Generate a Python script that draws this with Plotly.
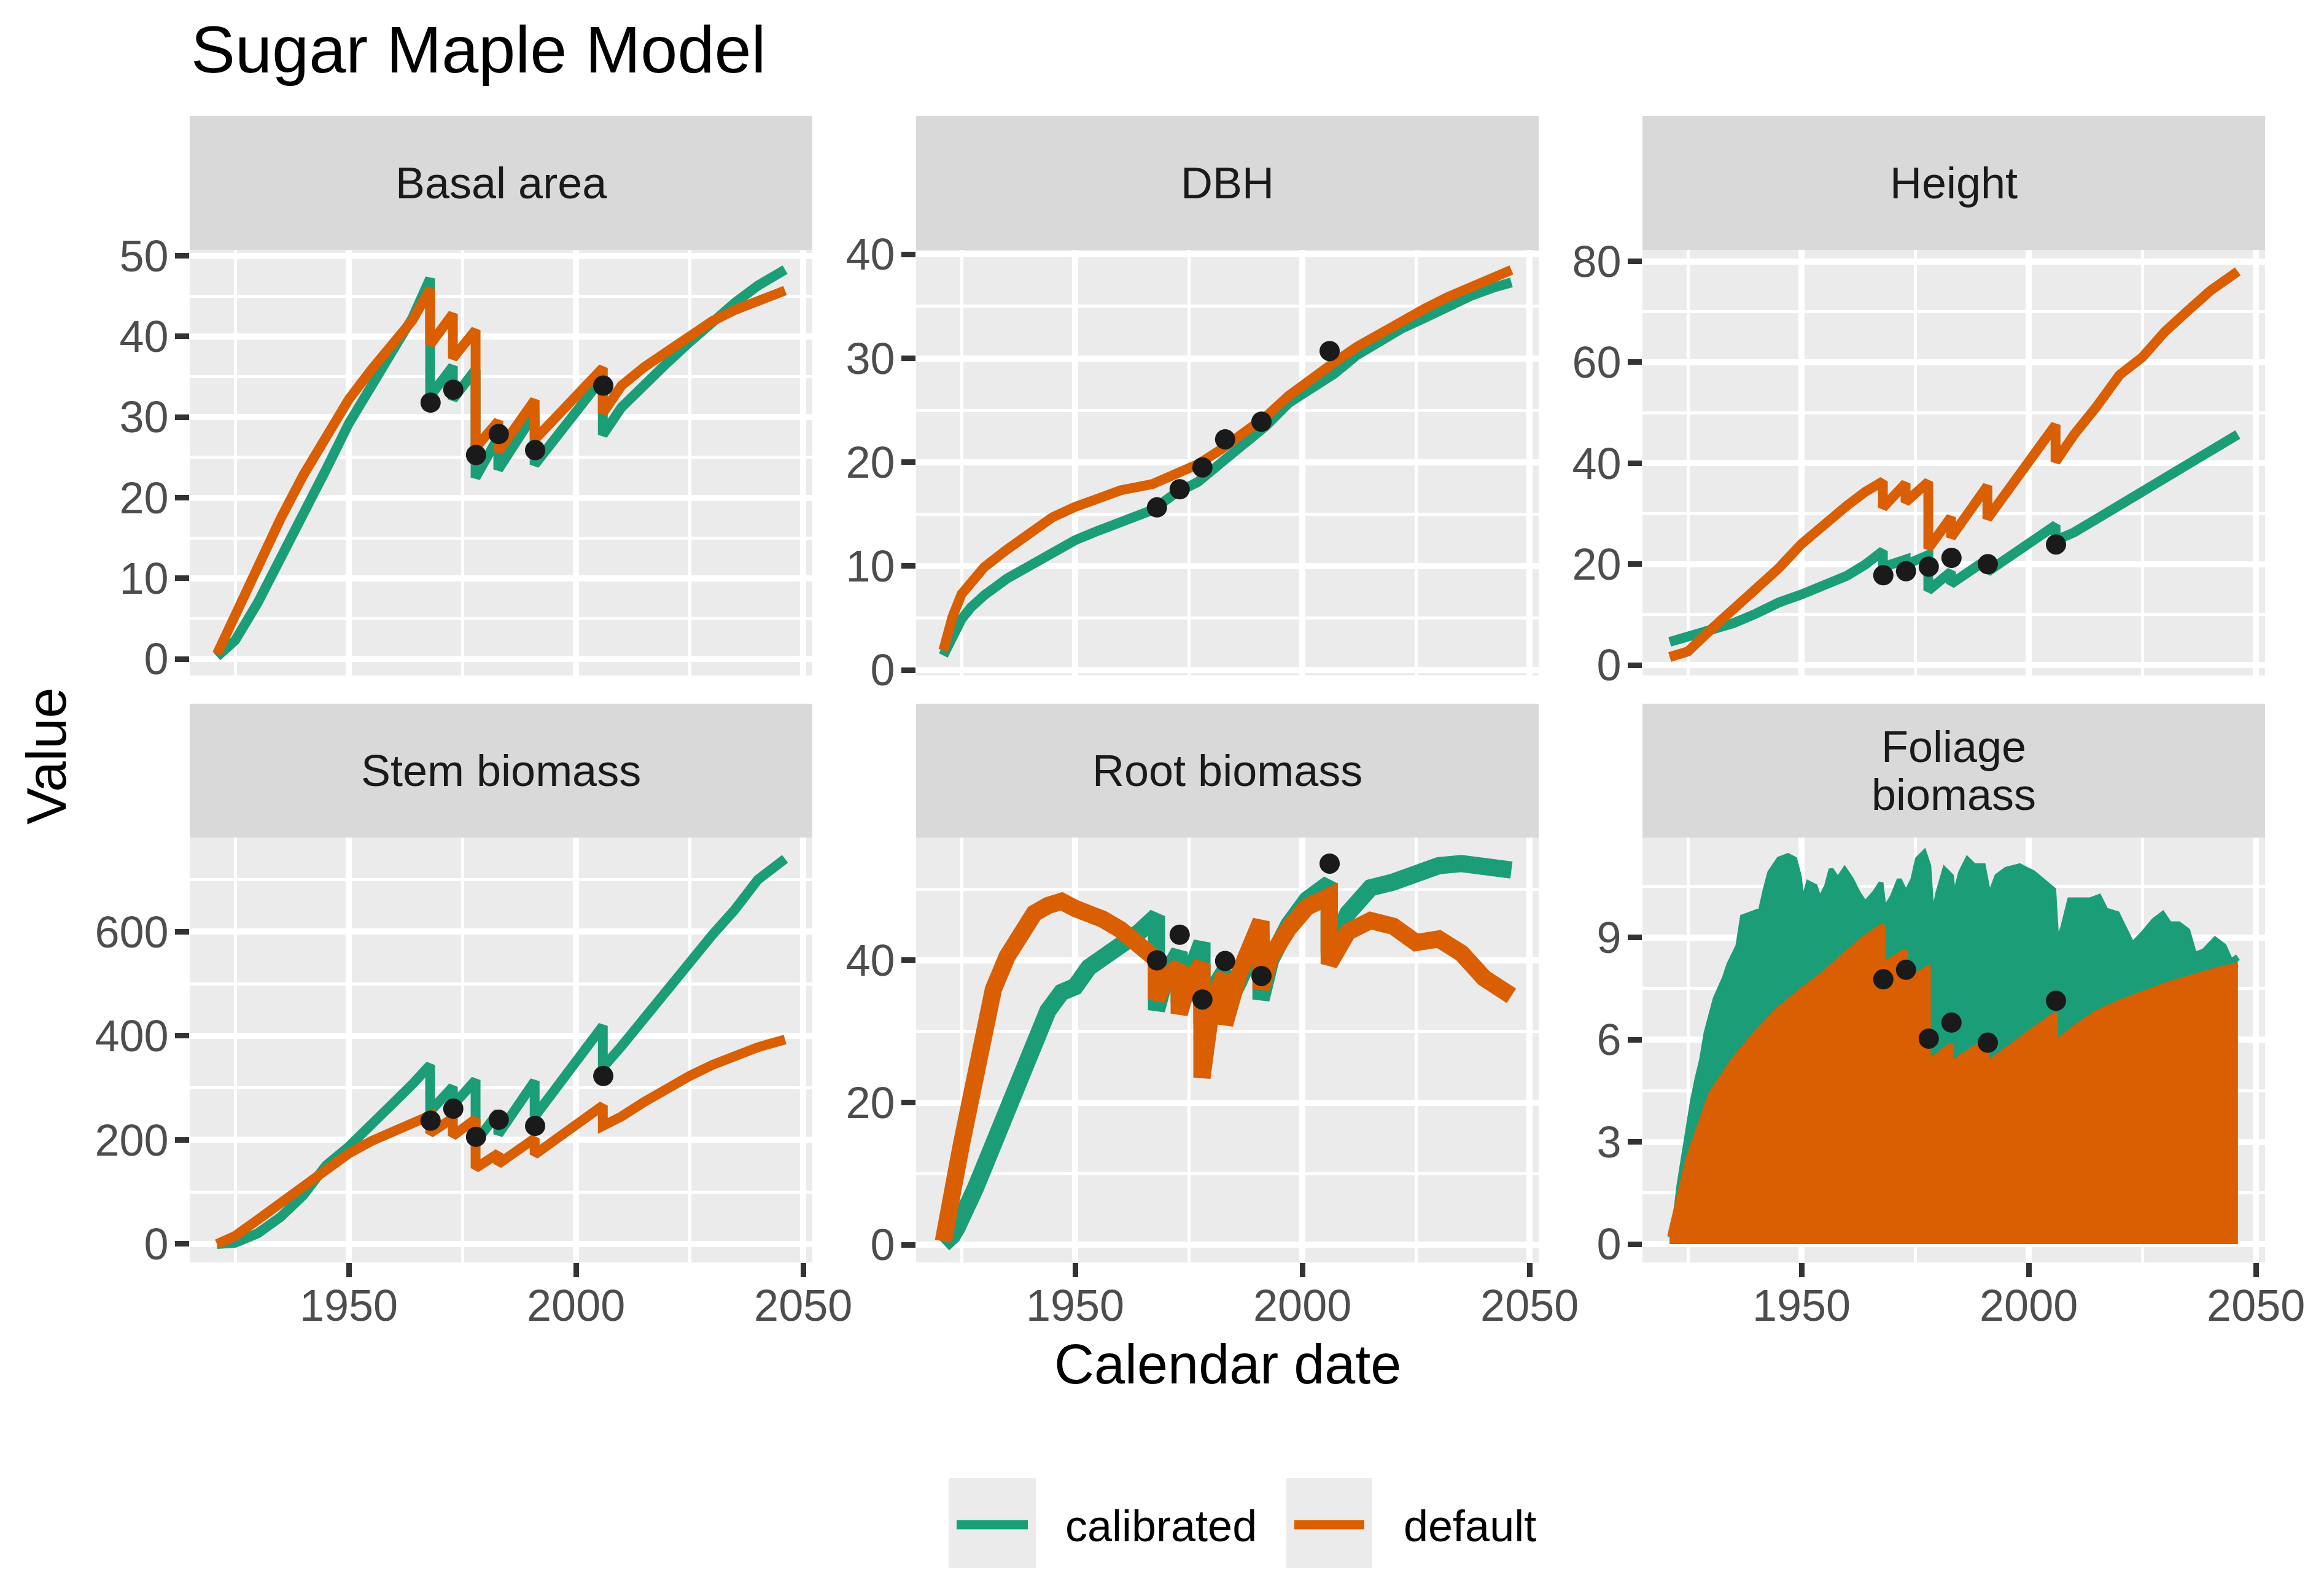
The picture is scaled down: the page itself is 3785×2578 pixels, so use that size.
import plotly.graph_objects as go

# ------------------------------------------------------------------
# Data
# ------------------------------------------------------------------
SERIES = ["calibrated", "default"]
PANELS = ["Basal area", "DBH", "Height", "Stem biomass", "Root biomass", "Foliage<br>biomass"]

OBS_YEARS = [1968, 1973, 1978, 1983, 1991, 2006]

# time grid with thinning events (value before / after each cut)
STEP_YEARS = [1921, 1925, 1930, 1935, 1940, 1945, 1950, 1955, 1960, 1964,
              1967.9, 1967.9, 1972.9, 1972.9, 1977.9, 1977.9, 1982.9, 1982.9,
              1990.9, 1990.9, 2005.9, 2005.9,
              2010, 2015, 2020, 2025, 2030, 2035, 2040, 2046]

# Basal area
BA_CAL = [0.3, 2.3, 7.0, 12.4, 17.7, 23.5, 29.2, 33.9, 38.6, 42.3,
          47.2, 32.6, 36.3, 32.2, 35.9, 22.5, 27.5, 23.5, 30.5, 24.1, 34.9, 27.8,
          31.2, 34.1, 36.7, 39.3, 41.8, 44.2, 46.3, 48.3]
BA_DEF = [0.6, 5.6, 11.7, 17.4, 22.8, 27.8, 32.2, 35.9, 39.3, 42.0,
          45.9, 39.0, 42.8, 37.3, 40.8, 26.2, 29.5, 25.7, 32.1, 27.2, 36.1, 30.5,
          33.9, 36.2, 38.1, 40.1, 41.9, 43.3, 44.4, 45.7]
BA_OBS = [31.8, 33.4, 25.3, 27.9, 25.9, 33.9]

# DBH
DBH_YEARS = [1921, 1922, 1923, 1925, 1927, 1930, 1935, 1940, 1945, 1950, 1955, 1960,
             1967, 1972, 1977, 1982, 1987, 1992, 1997, 2002, 2007, 2012, 2017, 2022,
             2027, 2032, 2037, 2042, 2046]
DBH_CAL = [1.4, 2.3, 3.4, 4.9, 6.0, 7.2, 8.8, 10.1, 11.4, 12.5, 13.4, 14.2,
           15.4, 17.0, 18.1, 19.9, 21.6, 23.5, 25.7, 27.2, 28.5, 30.3, 31.6, 32.9,
           33.9, 35.0, 36.0, 36.8, 37.3]
DBH_DEF = [1.9, 3.6, 5.1, 7.3, 8.4, 9.9, 11.6, 13.1, 14.7, 15.7, 16.6, 17.3,
           17.9, 18.8, 19.8, 21.2, 22.7, 24.4, 26.4, 28.1, 29.6, 31.1, 32.4, 33.6,
           34.8, 35.9, 36.9, 37.8, 38.5]
DBH_OBS = [15.65, 17.4, 19.5, 22.2, 23.9, 30.7]

# Height
HT_CAL = [4.6, 5.6, 7.0, 8.3, 10.2, 12.4, 14.0, 15.9, 17.7, 19.9,
          22.6, 19.4, 20.9, 19.9, 21.8, 14.8, 18.5, 16.1, 21.0, 18.5, 27.7, 24.7,
          26.3, 29.0, 31.7, 34.7, 37.6, 40.3, 43.0, 45.7]
HT_DEF = [1.6, 2.7, 7.0, 11.0, 15.1, 19.2, 24.0, 28.0, 31.6, 34.3,
          36.4, 31.2, 36.0, 32.3, 36.3, 23.1, 29.3, 25.3, 35.5, 29.0, 47.6, 40.3,
          45.7, 51.3, 57.5, 61.0, 66.1, 70.2, 74.2, 78.0]
HT_OBS = [17.8, 18.6, 19.5, 21.25, 20.0, 23.9]

# Stem biomass
ST_CAL = [0, 2.6, 20.8, 52, 94, 151, 187, 229, 273, 307,
          344, 255, 302, 266, 315, 196, 253, 211, 313, 245, 419, 339,
          380, 435, 484, 539, 594, 643, 700, 740]
ST_DEF = [0, 15.6, 47, 78, 109, 143, 174, 198, 216, 229,
          247, 213, 242, 208, 240, 146, 174, 154, 203, 172, 266, 227,
          245, 273, 299, 323, 344, 362, 378, 393]
ST_OBS = [237, 260, 206, 239, 227, 323]

# Root biomass
RT_YEARS = [1921, 1922, 1923, 1924, 1925, 1926, 1927, 1928, 1930, 1932,
            1935, 1938, 1941, 1944, 1947, 1950, 1953, 1956, 1960, 1964,
            1967.9, 1967.9, 1970, 1972.9, 1972.9, 1975, 1977.9, 1977.9, 1980,
            1982.9, 1982.9, 1986, 1988.5, 1990.9, 1990.9, 1993, 1997, 2001,
            2005.9, 2005.9, 2010, 2015, 2020, 2025, 2030, 2035, 2040, 2046]
RT_CAL = [0.1, 0.5, 1.3, 2.4, 3.5, 4.9, 6.6, 7.9, 11.0, 14.2,
          19.0, 23.7, 28.5, 32.9, 35.5, 36.3, 39.0, 40.3, 42.2, 43.9,
          46.2, 33.0, 38.0, 41.2, 34.0, 37.5, 42.5, 31.0, 35.5,
          38.5, 33.0, 37.0, 41.0, 44.0, 34.5, 40.0, 45.0, 48.5,
          50.8, 41.0, 46.6, 50.2, 51.0, 52.1, 53.3, 53.6, 53.4, 52.7]
RT_DEF = [0.5, 3.2, 6.2, 10.8, 14.2, 17.3, 20.7, 24.3, 31.0, 35.9,
          40.5, 43.9, 46.6, 47.7, 48.3, 47.3, 46.6, 45.8, 44.3, 42.4,
          40.1, 34.5, 37.5, 39.2, 32.5, 37.0, 39.5, 23.5, 33.5,
          38.0, 31.0, 38.0, 42.0, 45.5, 36.0, 40.5, 44.5, 47.5,
          49.0, 39.5, 44.0, 45.6, 44.8, 42.5, 43.0, 41.0, 37.5, 35.0]
RT_OBS = [40.0, 43.6, 34.5, 39.9, 37.8, 53.6]

# Foliage biomass (upper envelope of the seasonal cycle)
FO_CAL_YEARS = [1921, 1922, 1923, 1924, 1925, 1926, 1927, 1928, 1929, 1930,
                1931, 1932, 1933, 1934, 1935, 1936, 1937, 1939, 1941, 1942,
                1943, 1945, 1947, 1948.5, 1949.5, 1950.2, 1951.5, 1953, 1954, 1955.5,
                1956.5, 1958, 1959.5, 1961, 1962.5, 1964, 1966, 1967.5, 1968.2, 1970,
                1971.5, 1973, 1974.5, 1975.5, 1977, 1978, 1978.8, 1980, 1981.5, 1983,
                1983.5, 1985, 1986.5, 1988, 1990, 1991.3, 1993, 1995, 1998, 2001,
                2003.5, 2005.5, 2006.2, 2007.5, 2009, 2011, 2013.5, 2015.5, 2017, 2019.5,
                2021.5, 2022.8, 2025, 2027.5, 2029.5, 2031, 2033, 2035, 2036.5, 2038.5,
                2041, 2043, 2044.5, 2045.5, 2046]
FO_CAL = [0.2, 0.56, 1.7, 2.6, 3.3, 4.2, 4.85, 5.4, 6.2, 6.7,
          7.2, 7.5, 7.8, 8.2, 8.5, 8.75, 9.6, 9.7, 9.8, 10.4,
          10.9, 11.3, 11.4, 11.3, 10.8, 10.0, 10.6, 10.5, 10.1, 10.5,
          11.0, 10.7, 11.0, 10.7, 10.3, 10.0, 10.3, 10.6, 9.8, 10.2,
          10.7, 10.3, 10.7, 11.3, 11.5, 11.1, 9.5, 10.3, 11.0, 10.8,
          10.1, 10.9, 11.3, 11.1, 11.1, 10.2, 10.8, 11.0, 11.1, 10.9,
          10.6, 10.4, 8.8, 9.3, 10.1, 10.1, 10.1, 10.2, 9.8, 9.7,
          9.2, 8.8, 9.1, 9.5, 9.7, 9.4, 9.4, 9.2, 8.5, 8.6,
          8.95, 8.75, 8.3, 8.4, 8.3]
FO_DEF = [0.24, 2.5, 4.4, 5.4, 6.2, 6.9, 7.45, 7.95, 8.55, 9.0,
          9.35, 8.2, 8.6, 7.75, 8.1, 5.33, 5.85, 5.3, 6.0, 5.3, 6.76, 5.9,
          6.35, 6.8, 7.1, 7.35, 7.6, 7.8, 8.0, 8.2]
FO_OBS = [7.77, 8.05, 6.03, 6.5, 5.91, 7.14]

# Axis ticks
X_MAJOR = [1950, 2000, 2050]
X_MINOR = [1925, 1975, 2025]
Y_MAJOR = [[0, 10, 20, 30, 40, 50], [0, 10, 20, 30, 40], [0, 20, 40, 60, 80],
           [0, 200, 400, 600], [0, 20, 40], [0, 3, 6, 9]]
Y_MINOR = [[5, 15, 25, 35, 45], [5, 15, 25, 35], [10, 30, 50, 70],
           [100, 300, 500, 700], [10, 30, 50], [1.5, 4.5, 7.5, 10.5]]

# ------------------------------------------------------------------
# Layout / style
# ------------------------------------------------------------------
W, H = 3785, 2578
PAGE_OFFSET = 8          # the page body margin shifts the figure by this much
FONT = "Liberation Sans, Arial, sans-serif"
COLORS = {"calibrated": "#1B9E77", "default": "#D95F02"}
OBS_COLOR = "#1A1A1A"
PANEL_BG = "#EBEBEB"
STRIP_BG = "#D9D9D9"
GRID_MAJ, GRID_MIN = 10, 5
X_RANGE = [1915.0, 2052.0]
Y_RANGES = [[-2.05, 50.74], [-0.52, 40.43], [-2.05, 82.26],
            [-35.4, 781.0], [-2.48, 57.26], [-0.54, 11.93]]
LINE_W = [16, 16, 16, 16, 28, 8]

COLS_PX = [(309, 1323), (1492, 2506), (2675, 3689)]
ROWS_PX = [(407, 1100), (1364, 2056)]
STRIPS_PX = [(189, 407), (1146, 1364)]


def px_x(p):
    return (p - PAGE_OFFSET) / W


def px_y(p):
    return 1 - (p - PAGE_OFFSET) / H


panel_data = [
    (STEP_YEARS, BA_CAL, STEP_YEARS, BA_DEF, BA_OBS),
    (DBH_YEARS, DBH_CAL, DBH_YEARS, DBH_DEF, DBH_OBS),
    (STEP_YEARS, HT_CAL, STEP_YEARS, HT_DEF, HT_OBS),
    (STEP_YEARS, ST_CAL, STEP_YEARS, ST_DEF, ST_OBS),
    (RT_YEARS, RT_CAL, RT_YEARS, RT_DEF, RT_OBS),
    (FO_CAL_YEARS, FO_CAL, STEP_YEARS, FO_DEF, FO_OBS),
]

fig = go.Figure()
layout = {}
shapes = []
annotations = []

for i, (xc, yc, xd, yd, yo) in enumerate(panel_data):
    r, c = divmod(i, 3)
    xref = "x" if i == 0 else f"x{i+1}"
    yref = "y" if i == 0 else f"y{i+1}"
    is_fill = (i == 5)
    for name, xs, ys in ((SERIES[0], xc, yc), (SERIES[1], xd, yd)):
        fig.add_trace(go.Scatter(
            x=xs, y=ys, mode="lines", name=name, xaxis=xref, yaxis=yref,
            line=dict(color=COLORS[name], width=LINE_W[i]),
            fill="tozeroy" if is_fill else None,
            fillcolor=COLORS[name] if is_fill else None,
            showlegend=False,
        ))
    fig.add_trace(go.Scatter(
        x=OBS_YEARS, y=yo, mode="markers", name="observed",
        xaxis=xref, yaxis=yref,
        marker=dict(color=OBS_COLOR, size=33, line=dict(width=0)),
        showlegend=False,
    ))

    xa = dict(
        domain=[px_x(COLS_PX[c][0]), px_x(COLS_PX[c][1])],
        anchor=yref, range=X_RANGE, automargin=False,
        tickmode="array", tickvals=X_MAJOR, ticktext=[str(v) for v in X_MAJOR],
        showgrid=True, gridcolor="white", gridwidth=GRID_MAJ,
        zeroline=False, showline=False,
        minor=dict(tickmode="array", tickvals=X_MINOR, showgrid=True,
                   gridcolor="white", gridwidth=GRID_MIN, ticks=""),
    )
    if r == 0:
        xa.update(showticklabels=False, ticks="")
    else:
        xa.update(ticks="outside", ticklen=23, tickwidth=9, tickcolor="#333333",
                  tickfont=dict(family=FONT, size=72, color="#4D4D4D"),
                  ticklabelstandoff=-15)
    ya = dict(
        domain=[px_y(ROWS_PX[r][1]), px_y(ROWS_PX[r][0])],
        anchor=xref, range=Y_RANGES[i], automargin=False,
        tickmode="array", tickvals=Y_MAJOR[i], ticktext=[str(v) for v in Y_MAJOR[i]],
        showgrid=True, gridcolor="white", gridwidth=GRID_MAJ,
        zeroline=False, showline=False,
        ticks="outside", ticklen=23, tickwidth=9, tickcolor="#333333",
        tickfont=dict(family=FONT, size=72, color="#4D4D4D"),
        ticklabelstandoff=-4,
        minor=dict(tickmode="array", tickvals=Y_MINOR[i], showgrid=True,
                   gridcolor="white", gridwidth=GRID_MIN, ticks=""),
    )
    layout["xaxis" if i == 0 else f"xaxis{i+1}"] = xa
    layout["yaxis" if i == 0 else f"yaxis{i+1}"] = ya

    # strip
    s0, s1 = STRIPS_PX[r]
    shapes.append(dict(type="rect", xref="paper", yref="paper",
                       x0=px_x(COLS_PX[c][0]), x1=px_x(COLS_PX[c][1]),
                       y0=px_y(s1), y1=px_y(s0),
                       fillcolor=STRIP_BG, line=dict(width=0), layer="below"))
    lines = PANELS[i].split("<br>")
    centre = (s0 + s1) / 2
    for k, txt in enumerate(lines):
        yc_px = centre + (k - (len(lines) - 1) / 2) * 78
        annotations.append(dict(
            text=txt, xref="paper", yref="paper",
            x=px_x((COLS_PX[c][0] + COLS_PX[c][1]) / 2), y=px_y(yc_px),
            xanchor="center", yanchor="middle", showarrow=False,
            font=dict(family=FONT, size=72, color="#1A1A1A")))

# title and axis titles
annotations.append(dict(text="Sugar Maple Model", xref="paper", yref="paper",
                        x=px_x(309), y=px_y(80), xanchor="left", yanchor="middle",
                        showarrow=False, font=dict(family=FONT, size=108, color="black")))
annotations.append(dict(text="Calendar date", xref="paper", yref="paper",
                        x=px_x(1999), y=px_y(2222), xanchor="center", yanchor="middle",
                        showarrow=False, font=dict(family=FONT, size=90, color="black")))
annotations.append(dict(text="Value", xref="paper", yref="paper", textangle=-90,
                        x=px_x(76), y=px_y(1231), xanchor="center", yanchor="middle",
                        showarrow=False, font=dict(family=FONT, size=90, color="black")))

# legend (drawn manually to mimic ggplot key boxes)
LEG_KEYS = [(1545, 1687, 1733), (2095, 2235, 2284)]
for name, (k0, k1, tx) in zip(SERIES, LEG_KEYS):
    shapes.append(dict(type="rect", xref="paper", yref="paper",
                       x0=px_x(k0), x1=px_x(k1), y0=px_y(2554), y1=px_y(2407),
                       fillcolor=PANEL_BG, line=dict(width=0)))
    shapes.append(dict(type="line", xref="paper", yref="paper",
                       x0=px_x(k0 + 13), x1=px_x(k1 - 13), y0=px_y(2483), y1=px_y(2483),
                       line=dict(color=COLORS[name], width=15)))
    annotations.append(dict(text=name, xref="paper", yref="paper",
                            x=px_x(tx), y=px_y(2485), xanchor="left", yanchor="middle",
                            showarrow=False, font=dict(family=FONT, size=72, color="black")))

fig.update_layout(
    width=W, height=H, autosize=False,
    margin=dict(l=0, r=0, t=0, b=0, pad=0, autoexpand=False),
    paper_bgcolor="white", plot_bgcolor=PANEL_BG,
    font=dict(family=FONT, size=72, color="#4D4D4D"),
    showlegend=False,
    shapes=shapes, annotations=annotations,
    **layout,
)

fig.write_html("out.html")
